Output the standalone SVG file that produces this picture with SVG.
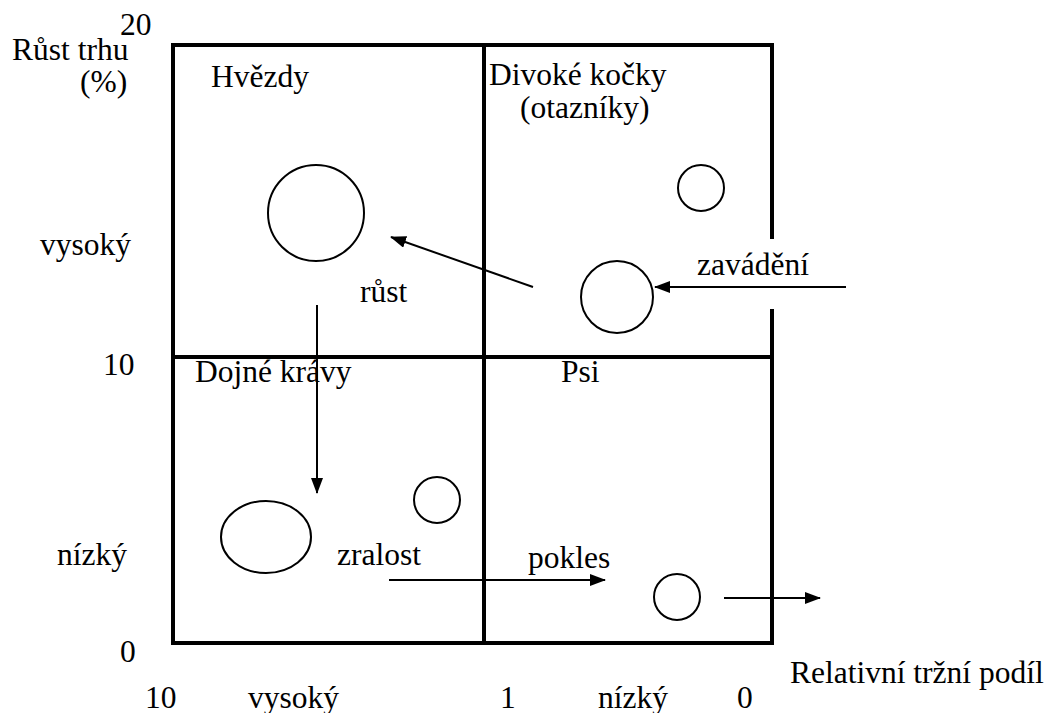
<svg xmlns="http://www.w3.org/2000/svg" width="1051" height="713" viewBox="0 0 1051 713" font-family="'Liberation Serif', serif">
  <style>
    text { font-family: "Liberation Serif", "Times New Roman", serif; font-size: 31.5px; fill: #000; }
    .frame { fill: none; stroke: #000; stroke-width: 4; stroke-linecap: square; }
    .bubble { fill: #fff; stroke: #000; stroke-width: 2; }
    .arrow { fill: none; stroke: #000; stroke-width: 2; marker-end: url(#head); }
  </style>
  <defs>
    <marker id="head" viewBox="0 0 16 12" refX="15" refY="6" markerWidth="16" markerHeight="12" markerUnits="userSpaceOnUse" orient="auto">
      <path d="M0,0 L16,6 L0,12 Z" fill="#000"/>
    </marker>
  </defs>

  <!-- matrix frame and quadrant dividers -->
  <g id="frame">
    <path class="frame" d="M772,237 L772,45 L173,45 L173,643 L772,643 L772,311"/>
    <line class="frame" x1="484" y1="45" x2="484" y2="643"/>
    <line class="frame" x1="173" y1="357" x2="772" y2="357"/>
  </g>

  <!-- axis labels -->
  <g id="axes">
    <text x="120" y="35">20</text>
    <text x="12" y="60">Růst trhu</text>
    <text x="80" y="92">(%)</text>
    <text x="40" y="255">vysoký</text>
    <text x="103" y="375">10</text>
    <text x="57" y="565">nízký</text>
    <text x="120" y="662">0</text>
    <text x="790" y="683">Relativní tržní podíl</text>
    <text x="145" y="708">10</text>
    <text x="248" y="708">vysoký</text>
    <text x="500" y="708">1</text>
    <text x="598" y="708">nízký</text>
    <text x="737" y="708">0</text>
  </g>

  <!-- quadrant titles -->
  <g id="stars"><text x="211" y="87">Hvězdy</text></g>
  <g id="wildcats">
    <text x="489" y="85">Divoké kočky</text>
    <text x="520" y="118">(otazníky)</text>
  </g>
  <g id="cashcows"><text x="195" y="382">Dojné krávy</text></g>
  <g id="dogs"><text x="561" y="382">Psi</text></g>

  <!-- products -->
  <g id="products">
    <circle class="bubble" cx="316" cy="213" r="48"/>
    <circle class="bubble" cx="701" cy="188" r="23"/>
    <circle class="bubble" cx="617" cy="297" r="36"/>
    <ellipse class="bubble" cx="266" cy="537" rx="45" ry="36"/>
    <circle class="bubble" cx="437" cy="500" r="23"/>
    <circle class="bubble" cx="677" cy="597" r="23"/>
  </g>

  <!-- life-cycle connectors -->
  <g id="connectors">
    <line class="arrow" x1="533" y1="287" x2="391" y2="237"/>
    <line class="arrow" x1="846" y1="287" x2="655" y2="287"/>
    <line class="arrow" x1="317" y1="305" x2="317" y2="493"/>
    <line class="arrow" x1="389" y1="580" x2="605" y2="580"/>
    <line class="arrow" x1="724" y1="598" x2="820" y2="598"/>
  </g>

  <!-- connector labels -->
  <g id="labels">
    <text x="360" y="302">růst</text>
    <text x="697" y="275">zavádění</text>
    <text x="337" y="565">zralost</text>
    <text x="528" y="568">pokles</text>
  </g>
</svg>
